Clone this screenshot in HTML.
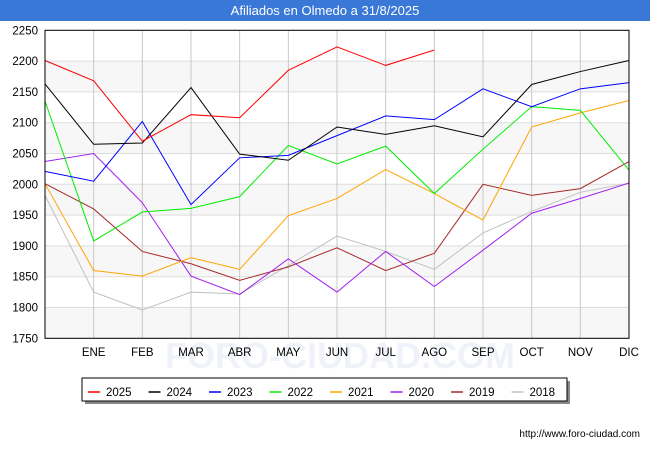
<!DOCTYPE html>
<html><head><meta charset="utf-8"><style>
body{margin:0;background:#fff;font-family:"Liberation Sans",sans-serif}
svg text{font-family:"Liberation Sans",sans-serif}
</style></head><body>
<svg id="c" width="650" height="450" xmlns="http://www.w3.org/2000/svg">
<rect x="0" y="0" width="650" height="21" fill="#3a78d8"/>
<text x="325" y="15" text-anchor="middle" fill="#fff" font-size="13">Afiliados en Olmedo a 31/8/2025</text>
<text x="340" y="368" text-anchor="middle" font-size="36" fill="#f0f2fa" font-weight="bold">FORO-CIUDAD.COM</text>
<g id="grid"></g><g id="series"></g>
<rect x="45" y="30.3" width="584" height="308" fill="none" stroke="#000" stroke-width="1"/>
<g id="legend"></g>
<text x="640" y="437" text-anchor="end" font-size="10" fill="#000">http://www.foro-ciudad.com</text>
</svg>
<script>
const months=["","ENE","FEB","MAR","ABR","MAY","JUN","JUL","AGO","SEP","OCT","NOV","DIC"];
const yTicks=[1750,1800,1850,1900,1950,2000,2050,2100,2150,2200,2250];
const seriesNames=["2025","2024","2023","2022","2021","2020","2019","2018"];
const seriesColors=["#ff0000","#000000","#0000ff","#00ee00","#ffa500","#a020f0","#a52a2a","#c0c0c0"];
const s2025=[2201,2168,2070,2113,2108,2185,2223,2193,2218];
const s2024=[2163,2065,2067,2157,2049,2039,2093,2081,2095,2077,2162,2183,2201];
const s2023=[2021,2005,2102,1967,2043,2047,2079,2111,2105,2155,2126,2155,2165];
const s2022=[2135,1908,1955,1961,1980,2063,2033,2062,1985,2057,2126,2120,2023];
const s2021=[2001,1860,1851,1881,1862,1949,1977,2024,1985,1942,2093,2116,2136];
const s2020=[2037,2050,1970,1851,1821,1879,1825,1891,1834,1893,1953,1977,2002];
const s2019=[2001,1960,1891,1871,1844,1866,1897,1860,1888,2000,1982,1993,2037];
const s2018=[1982,1825,1796,1825,1822,1868,1916,1891,1862,1921,1956,1987,2002];
const allSeries=[s2025,s2024,s2023,s2022,s2021,s2020,s2019,s2018];
const NS="http://www.w3.org/2000/svg";
const x0=45,x1=629,yTop=30.3,yBot=338.3,vMin=1750,vMax=2250;
const xs=i=>x0+i*(x1-x0)/(months.length-1);
const ys=v=>yBot-(v-vMin)/(vMax-vMin)*(yBot-yTop);
function mk(t,a,p){const e=document.createElementNS(NS,t);for(const k in a)e.setAttribute(k,a[k]);p.appendChild(e);return e;}
const g=document.getElementById('grid');
for(let i=0;i<yTicks.length-1;i++){
 if(i%2==0){const r=mk('rect',{x:x0,y:ys(yTicks[i+1]),width:x1-x0,height:ys(yTicks[i])-ys(yTicks[i+1]),fill:'#f7f7f7'},g);
 
 }
}
yTicks.forEach(v=>{
 const l=mk('line',{x1:x0,x2:x1,y1:ys(v),y2:ys(v),stroke:'#dddddd'},g);
 
 
 const t=mk('text',{x:38,y:ys(v)+4,'text-anchor':'end','font-size':'11.5',fill:'#000'},g);t.textContent=v;
 
 
});
months.forEach((m,i)=>{
 if(i>0){const l=mk('line',{x1:xs(i),x2:xs(i),y1:yTop,y2:yBot,stroke:'#c8c8c8'},g);
 
 }
 if(m){const t=mk('text',{x:xs(i),y:356,'text-anchor':'middle','font-size':'11.5',fill:'#000'},g);t.textContent=m;
 
 }
});
const sg=document.getElementById('series');
for(let k=allSeries.length-1;k>=0;k--){
 const pts=allSeries[k].map((v,i)=>xs(i)+','+ys(v)).join(' ');
 const p=mk('polyline',{points:pts,fill:'none',stroke:seriesColors[k],'stroke-width':1},sg);
 
 
}
const lg=document.getElementById('legend');
const sh=mk('rect',{x:85,y:381,width:485,height:23,fill:'#888'},lg);


const bx=mk('rect',{x:82,y:378,width:485,height:23,fill:'#fff',stroke:'#000'},lg);


seriesNames.forEach((n,i)=>{
 const x=88+i*60.5;
 const l=mk('line',{x1:x,x2:x+12,y1:392,y2:392,stroke:seriesColors[i],'stroke-width':1.5},lg);
 
 
 const t=mk('text',{x:x+18,y:396,'font-size':'11.5',fill:'#000'},lg);t.textContent=n;
 
 
});
</script>
</body></html>
